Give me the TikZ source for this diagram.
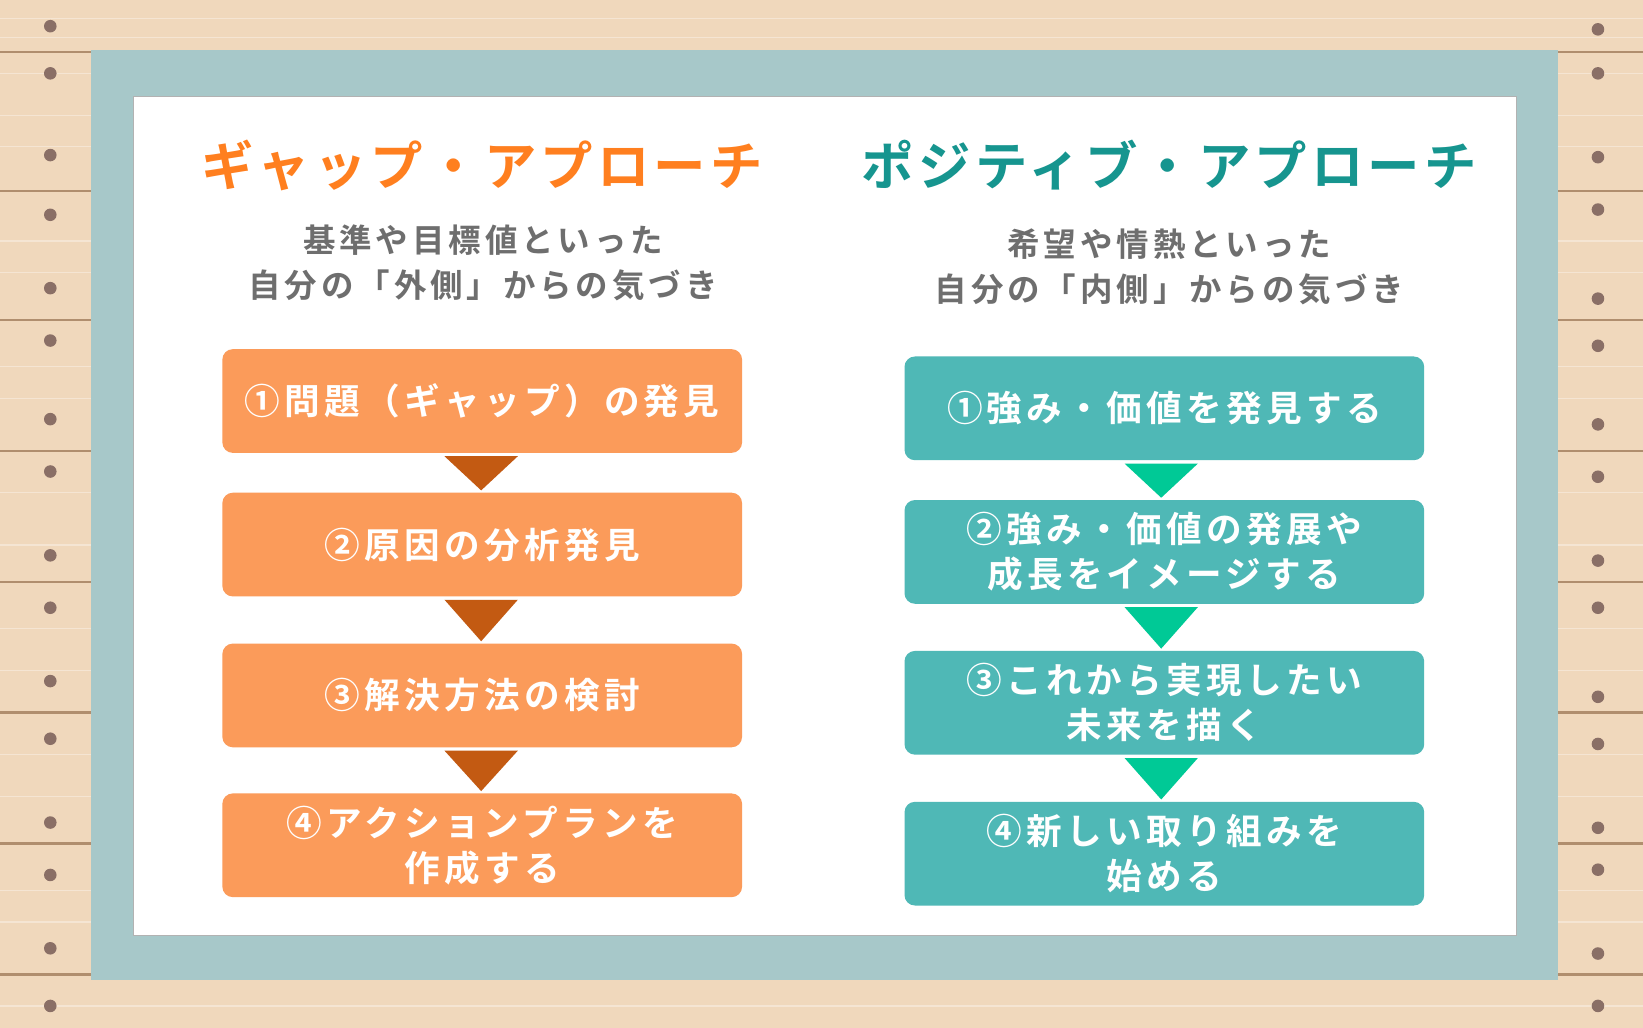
\documentclass[tikz,border=0pt]{standalone}
\usepackage{fontspec}
\setmainfont{Noto Sans CJK JP Bold}
\newfontfamily\jpbox[LetterSpace=12]{Noto Sans CJK JP Bold}
\newfontfamily\jpsub[LetterSpace=12]{Noto Sans CJK JP Bold}
\newfontfamily\jptitle[LetterSpace=8]{Noto Sans CJK JP Bold}
\begin{document}
\begin{tikzpicture}[x=1pt,y=-1pt,
  obox/.style={fill=ob,rounded corners=10pt,minimum width=496pt,minimum height=99pt,text=white,font=\jpbox\fontsize{34}{43}\selectfont,align=center,anchor=north west},
  tbox/.style={obox,fill=tb},
  dot/.style={fill=dotc,draw=none}]
\definecolor{ob}{HTML}{FB9B5A}
\definecolor{tb}{HTML}{4FB8B6}
\definecolor{wood}{HTML}{F0D8BC}
\definecolor{woodline}{HTML}{B08E6E}
\definecolor{dotc}{HTML}{8A6F66}
\definecolor{frame}{HTML}{A7C8C9}
\definecolor{otri}{HTML}{C35A12}
\definecolor{gtri}{HTML}{00C996}
\definecolor{otitle}{HTML}{FF7F1F}
\definecolor{ttitle}{HTML}{16958F}
\definecolor{sub}{HTML}{6E6E6E}
\useasboundingbox (0,0) rectangle (1568,981);
\fill[wood] (0,0) rectangle (1568,981);
\foreach \y in {50,182,305,430,555,680,805,930}
  \draw[woodline,line width=2pt] (0,\y) -- (1568,\y);
\foreach \y in {18,36,70,110,140,230,260,350,380,470,520,600,640,720,760,850,880,960}
  \draw[white,opacity=0.35,line width=1.2pt] (0,\y) -- (1568,\y);
\foreach \y in {25,70,148,205,275,325,400,450,530,580,650,705,785,835,905,960}
  \fill[dot] (48,\y) circle (6);
\foreach \y in {28,70,150,200,285,330,405,455,535,580,665,710,790,830,910,960}
  \fill[dot] (1525,\y) circle (6);
\fill[frame] (87,48) rectangle (1487,935);
\fill[white] (127,92) rectangle (1447,893);
\draw[gray!60,line width=1pt] (127,92) rectangle (1447,893);
\node[text=otitle,font=\jptitle\fontsize{50}{58}\selectfont] (tl) at (460,158) {ギャップ・アプローチ};
\node[text=ttitle,font=\jptitle\fontsize{50}{58}\selectfont] (tr) at (1116,158) {ポジティブ・アプローチ};
\node[text=sub,font=\jpsub\fontsize{31}{43}\selectfont,align=center] (sl) at (461,251) {基準や目標値といった\\自分の「外側」からの気づき};
\node[text=sub,font=\jpsub\fontsize{31}{43}\selectfont,align=center] (sr) at (1116,255) {希望や情熱といった\\自分の「内側」からの気づき};
\node[obox] (l1) at (212,333) {①問題（ギャップ）の発見};
\node[obox] (l2) at (212,470) {②原因の分析発見};
\node[obox] (l3) at (212,614) {③解決方法の検討};
\node[obox] (l4) at (212,757) {④アクションプランを\\作成する};
\node[tbox] (r1) at (863,340) {①強み・価値を発見する};
\node[tbox] (r2) at (863,477) {②強み・価値の発展や\\成長をイメージする};
\node[tbox] (r3) at (863,621) {③これから実現したい\\未来を描く};
\node[tbox] (r4) at (863,765) {④新しい取り組みを\\始める};
\foreach \a/\b in {l1/l2,l2/l3,l3/l4}
  \fill[otri] ([xshift=-36pt,yshift=-3pt]\a.south) -- ([xshift=34pt,yshift=-3pt]\a.south) -- ([xshift=-1pt,yshift=2pt]\b.north) -- cycle;
\foreach \a/\b in {r1/r2,r2/r3,r3/r4}
  \fill[gtri] ([xshift=-38pt,yshift=-3pt]\a.south) -- ([xshift=32pt,yshift=-3pt]\a.south) -- ([xshift=-3pt,yshift=2pt]\b.north) -- cycle;
\end{tikzpicture}
\end{document}
